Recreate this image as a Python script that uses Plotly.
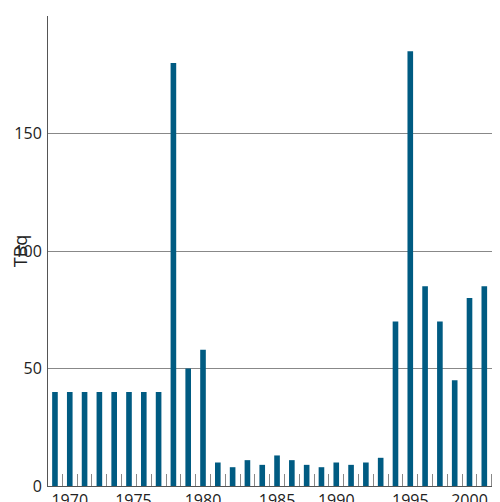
import plotly.graph_objects as go

values = [40, 40, 40, 40, 40, 40, 40, 40, 180, 50, 58,
          10, 8, 11, 9, 13, 11, 9, 8, 10, 9, 10, 12,
          70, 185, 85, 70, 45, 80, 85, 38]
positions = list(range(len(values)))
tick_pos = [1, 5.3, 10, 15, 19, 24, 28]
tick_text = ["1970", "1975", "1980", "1985", "1990", "1995", "2000"]

fig = go.Figure()
fig.add_trace(go.Bar(x=positions, y=values, width=0.38,
                     marker={"color": "#005b82", "line": {"width": 0}}))

fig.update_layout(
    width=500, height=502, showlegend=False,
    margin={"l": 40, "r": 0, "t": 8, "b": 24},
    plot_bgcolor="white", paper_bgcolor="white",
    font={"family": "Open Sans, sans-serif", "size": 16, "color": "#222"},
    xaxis={"range": [-0.47, 30.6], "tickvals": tick_pos, "ticktext": tick_text,
           "automargin": False, "ticklabelstandoff": 0,
           "showgrid": False, "ticks": "", "showline": True, "linecolor": "#555",
           "linewidth": 1,
           "minor": {"tick0": 0.5, "dtick": 1, "ticks": "inside", "ticklen": 12,
                     "tickcolor": "#888", "tickwidth": 1, "showgrid": False}},
    yaxis={"range": [0, 200], "tickvals": [0, 50, 100, 150, 200], "showgrid": True,
           "automargin": False, "ticklabelstandoff": 2,
           "gridcolor": "#888", "gridwidth": 1, "ticks": "", "showline": True,
           "linecolor": "#555", "zeroline": False,
           "title": {"text": "TBq", "standoff": 2, "font": {"size": 18}}},
)
fig.write_html("out.html")
